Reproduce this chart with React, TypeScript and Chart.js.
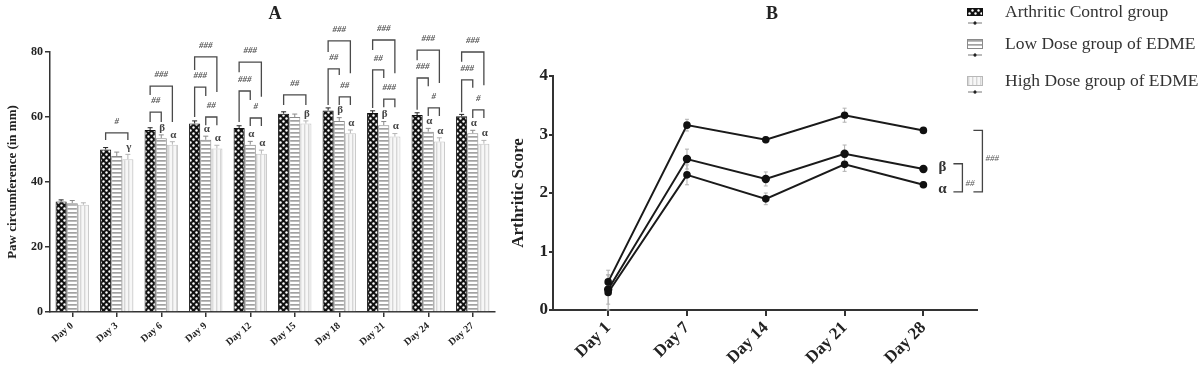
import React, { useEffect, useRef } from 'react';
import { Chart, registerables } from 'chart.js';

Chart.register(...registerables);

const FONT = '"Liberation Serif", "Times New Roman", serif';

// ---------- Panel A data ----------
const pawDays = ['Day 0', 'Day 3', 'Day 6', 'Day 9', 'Day 12', 'Day 15', 'Day 18', 'Day 21', 'Day 24', 'Day 27'];
const pawControl = [34, 50, 56, 58, 56.6, 61, 62, 61.2, 60.6, 60.2];
const pawLow = [33.5, 48, 53.5, 53, 51.5, 60, 58.8, 57.5, 55.5, 55];
const pawHigh = [33, 47, 51.5, 50.3, 48.7, 58, 55, 54, 52.5, 51.8];
const pawControlErr = [0.5, 0.6, 0.7, 0.8, 0.7, 0.6, 0.8, 0.7, 0.7, 0.6];
const pawLowErr = [0.8, 1.2, 1.0, 1.1, 1.0, 0.9, 1.0, 1.1, 1.0, 0.9];
const pawHighErr = [0.6, 1.5, 0.9, 1.0, 1.1, 0.8, 1.0, 0.9, 1.1, 1.0];
const pawTicks = [0, 20, 40, 60, 80];
// [day index, from group, to group, bracket level (mm), left leg end, right leg end, label]
const pawBrackets: [number, number, number, number, number, number, string][] = [
  [1, 0, 2, 55.1, 52.9, 52.9, '#'],
  [2, 0, 1, 61.5, 58.5, 58.5, '##'],
  [2, 0, 2, 69.5, 66.8, 58.5, '###'],
  [3, 0, 2, 78.5, 74.5, 67.7, '###'],
  [3, 0, 1, 69.2, 60, 66.5, '###'],
  [3, 1, 2, 60, 57.5, 57.5, '##'],
  [4, 0, 2, 76.9, 73.8, 66.2, '###'],
  [4, 0, 1, 68, 58.5, 65.2, '###'],
  [4, 1, 2, 59.7, 57.2, 57.2, '#'],
  [5, 0, 2, 66.8, 63.7, 63.7, '##'],
  [6, 0, 2, 83.4, 80, 73.5, '###'],
  [6, 0, 1, 74.8, 63.7, 72.9, '##'],
  [6, 1, 2, 66.2, 63.7, 63.7, '##'],
  [7, 0, 2, 83.7, 80.6, 73.5, '###'],
  [7, 0, 1, 74.5, 62.8, 72, '##'],
  [7, 1, 2, 65.5, 63, 63, '###'],
  [8, 0, 2, 80.6, 77.5, 70.5, '###'],
  [8, 0, 1, 72, 62.2, 69.5, '###'],
  [8, 1, 2, 62.8, 60.3, 60.3, '#'],
  [9, 0, 2, 80, 77, 69.8, '###'],
  [9, 0, 1, 71.4, 61.5, 69, '###'],
  [9, 1, 2, 62.2, 59.7, 59.7, '#'],
];
// [day index, group, symbol]
const pawLetters: [number, number, string][] = [
  [1, 2, 'γ'],
  [2, 1, 'β'], [2, 2, 'α'],
  [3, 1, 'α'], [3, 2, 'α'],
  [4, 1, 'α'], [4, 2, 'α'],
  [5, 2, 'β'],
  [6, 1, 'β'], [6, 2, 'α'],
  [7, 1, 'β'], [7, 2, 'α'],
  [8, 1, 'α'], [8, 2, 'α'],
  [9, 1, 'α'], [9, 2, 'α'],
];

// ---------- Panel B data ----------
const scoreDays = ['Day 1', 'Day 7', 'Day 14', 'Day 21', 'Day 28'];
const scoreControl = [0.48, 3.16, 2.91, 3.33, 3.07];
const scoreLow = [0.35, 2.58, 2.24, 2.67, 2.41];
const scoreHigh = [0.3, 2.31, 1.9, 2.49, 2.14];
const scoreControlErr = [0.2, 0.1, 0.05, 0.12, 0.04];
const scoreLowErr = [0.25, 0.17, 0.12, 0.15, 0.05];
const scoreHighErr = [0.3, 0.17, 0.1, 0.12, 0.05];
const scoreTicks = [0, 1, 2, 3, 4];
// [top value, bottom value, label, column]
const scoreBrackets: [number, number, string, number][] = [
  [3.07, 2.02, '###', 1],
  [2.5, 2.02, '##', 0],
];
// [value, symbol]
const scoreLetters: [number, string][] = [
  [2.45, 'β'],
  [2.06, 'α'],
];

const groupNames = ['Arthritic Control group', 'Low Dose group of EDME', 'High Dose group of EDME'];

function makePattern(kind: string): CanvasPattern | string {
  const c = document.createElement('canvas');
  const ctx = c.getContext('2d');
  if (!ctx) return '#888';
  if (kind === 'check') {
    c.width = 6; c.height = 6;
    ctx.fillStyle = '#111';
    ctx.fillRect(0, 0, 6, 6);
    ctx.fillStyle = '#fff';
    ctx.beginPath(); ctx.arc(1.5, 1.5, 1.2, 0, Math.PI * 2); ctx.fill();
    ctx.beginPath(); ctx.arc(4.5, 4.5, 1.2, 0, Math.PI * 2); ctx.fill();
  } else if (kind === 'hstripe') {
    c.width = 4; c.height = 4;
    ctx.fillStyle = '#fff';
    ctx.fillRect(0, 0, 4, 4);
    ctx.fillStyle = '#a2a2a2';
    ctx.fillRect(0, 0, 4, 1.7);
  } else {
    c.width = 4; c.height = 4;
    ctx.fillStyle = '#f7f7f7';
    ctx.fillRect(0, 0, 4, 4);
    ctx.fillStyle = '#d6d6d6';
    ctx.fillRect(0, 0, 1.4, 4);
  }
  return ctx.createPattern(c, 'repeat') || '#888';
}

export default function App() {
  const refA = useRef<HTMLCanvasElement>(null);
  const refB = useRef<HTMLCanvasElement>(null);

  useEffect(() => {
    if (!refA.current || !refB.current) return;
    const pCheck = makePattern('check');
    const pStripe = makePattern('hstripe');
    const pLight = makePattern('light');

    const pawSeries = [pawControl, pawLow, pawHigh];
    const pawErrs = [pawControlErr, pawLowErr, pawHighErr];

    const annotA = {
      id: 'annotA',
      afterDatasetsDraw(chart: any) {
        const { ctx } = chart;
        const ys = chart.scales.y;
        ctx.save();
        // error bars
        pawErrs.forEach((errs, di) => {
          const meta = chart.getDatasetMeta(di);
          meta.data.forEach((bar: any, j: number) => {
            const top = ys.getPixelForValue(pawSeries[di][j] + errs[j]);
            ctx.strokeStyle = di === 0 ? '#222' : di === 1 ? '#8a8a8a' : '#b5b5b5';
            ctx.lineWidth = 1;
            ctx.beginPath();
            ctx.moveTo(bar.x, bar.y);
            ctx.lineTo(bar.x, top);
            ctx.moveTo(bar.x - 2.5, top);
            ctx.lineTo(bar.x + 2.5, top);
            ctx.stroke();
          });
        });
        // brackets
        ctx.strokeStyle = '#4a4a4a';
        ctx.lineWidth = 1.3;
        ctx.fillStyle = '#555';
        ctx.font = `italic bold 9px ${FONT}`;
        ctx.textAlign = 'center';
        ctx.textBaseline = 'middle';
        pawBrackets.forEach(([d, a, b, top, la, lb, label]) => {
          const xa = chart.getDatasetMeta(a).data[d].x;
          const xb = chart.getDatasetMeta(b).data[d].x;
          const yt = ys.getPixelForValue(top);
          ctx.beginPath();
          ctx.moveTo(xa, ys.getPixelForValue(la));
          ctx.lineTo(xa, yt);
          ctx.lineTo(xb, yt);
          ctx.lineTo(xb, ys.getPixelForValue(lb));
          ctx.stroke();
          ctx.fillText(label, (xa + xb) / 2, yt - 11);
        });
        // letters
        ctx.fillStyle = '#444';
        ctx.font = `bold 11px ${FONT}`;
        pawLetters.forEach(([d, g, sym]) => {
          const bar = chart.getDatasetMeta(g).data[d];
          const yTop = ys.getPixelForValue(pawSeries[g][d] + pawErrs[g][d]);
          ctx.fillText(sym, bar.x + 1, yTop - 7);
        });
        ctx.restore();
      },
      afterDraw(chart: any) {
        const { ctx } = chart;
        ctx.save();
        ctx.fillStyle = '#222';
        ctx.font = `bold 18px ${FONT}`;
        ctx.textAlign = 'center';
        ctx.textBaseline = 'middle';
        ctx.fillText('A', 275, 14);
        ctx.restore();
      },
    };

    const chartA = new Chart(refA.current, {
      type: 'bar',
      data: {
        labels: pawDays,
        datasets: [
          { label: groupNames[0], data: pawControl, backgroundColor: pCheck as any, borderColor: '#111', borderWidth: 1 },
          { label: groupNames[1], data: pawLow, backgroundColor: pStripe as any, borderColor: '#8a8a8a', borderWidth: 1 },
          { label: groupNames[2], data: pawHigh, backgroundColor: pLight as any, borderColor: '#c4c4c4', borderWidth: 1 },
        ],
      },
      options: {
        responsive: false,
        animation: false,
        layout: { padding: { top: 52, right: 5, bottom: 0, left: 0 } },
        datasets: { bar: { categoryPercentage: 0.75, barPercentage: 1 } } as any,
        plugins: { legend: { display: false }, tooltip: { enabled: false } },
        scales: {
          x: {
            offset: true,
            grid: { display: true, drawOnChartArea: false, offset: false, tickLength: 5, color: '#333', lineWidth: 1.5 },
            border: { display: true, color: '#333', width: 1.5 },
            ticks: { color: '#222', font: { family: FONT, size: 10, weight: 'bold' }, minRotation: 40, maxRotation: 40, autoSkip: false, padding: 3 },
            afterFit: (s: any) => { s.height = 61; },
          },
          y: {
            min: 0,
            max: 80,
            afterBuildTicks: (s: any) => { s.ticks = pawTicks.map((v) => ({ value: v })); },
            grid: { display: true, drawOnChartArea: false, tickLength: 5, color: '#333', lineWidth: 1.5 },
            border: { display: true, color: '#333', width: 1.5 },
            ticks: { color: '#222', font: { family: FONT, size: 12, weight: 'bold' }, padding: 2 },
            title: { display: true, text: 'Paw circumference (in mm)', color: '#222', font: { family: FONT, size: 13, weight: 'bold' }, padding: { top: 5, bottom: 0 } },
            afterFit: (s: any) => { s.width = 50; },
          },
        },
      } as any,
      plugins: [annotA],
    });

    const scoreSeries = [scoreControl, scoreLow, scoreHigh];
    const scoreErrs = [scoreControlErr, scoreLowErr, scoreHighErr];

    const annotB = {
      id: 'annotB',
      beforeDatasetsDraw(chart: any) {
        const { ctx } = chart;
        const ys = chart.scales.y;
        ctx.save();
        ctx.strokeStyle = '#b0b0b0';
        ctx.lineWidth = 1;
        scoreErrs.forEach((errs, di) => {
          const meta = chart.getDatasetMeta(di);
          meta.data.forEach((pt: any, j: number) => {
            const v = scoreSeries[di][j];
            const y1 = ys.getPixelForValue(v + errs[j]);
            const y2 = ys.getPixelForValue(v - errs[j]);
            ctx.beginPath();
            ctx.moveTo(pt.x, y1); ctx.lineTo(pt.x, y2);
            ctx.moveTo(pt.x - 2, y1); ctx.lineTo(pt.x + 2, y1);
            ctx.moveTo(pt.x - 2, y2); ctx.lineTo(pt.x + 2, y2);
            ctx.stroke();
          });
        });
        ctx.restore();
      },
      afterDraw(chart: any) {
        const { ctx } = chart;
        const ys = chart.scales.y;
        const lastX = chart.getDatasetMeta(0).data[scoreDays.length - 1].x;
        ctx.save();
        // title
        ctx.fillStyle = '#222';
        ctx.font = `bold 18px ${FONT}`;
        ctx.textAlign = 'center';
        ctx.textBaseline = 'middle';
        ctx.fillText('B', 272, 14);
        // letters
        ctx.font = `bold 15px ${FONT}`;
        ctx.fillStyle = '#333';
        scoreLetters.forEach(([v, sym]) => {
          ctx.fillText(sym, lastX + 19, ys.getPixelForValue(v));
        });
        // brackets
        ctx.strokeStyle = '#444';
        ctx.lineWidth = 1.3;
        scoreBrackets.forEach(([top, bot, label, col]) => {
          const xr = lastX + 39 + col * 20;
          const xl = xr - 9;
          const yt = ys.getPixelForValue(top);
          const yb = ys.getPixelForValue(bot);
          ctx.beginPath();
          ctx.moveTo(xl, yt); ctx.lineTo(xr, yt); ctx.lineTo(xr, yb); ctx.lineTo(xl, yb);
          ctx.stroke();
          ctx.fillStyle = '#555';
          ctx.font = `italic 9px ${FONT}`;
          ctx.textAlign = 'left';
          ctx.fillText(label, xr + 3, (yt + yb) / 2 + (col === 0 ? 6 : -2));
        });
        // legend
        const pats = [pCheck, pStripe, pLight];
        const borders = ['#111', '#8a8a8a', '#b8b8b8'];
        const rowsY = [12, 44, 81];
        const sx = 467;
        rowsY.forEach((ry, i) => {
          const h = i === 0 ? 8 : 10;
          ctx.fillStyle = pats[i] as any;
          ctx.fillRect(sx, ry - h / 2, 16, h);
          ctx.strokeStyle = borders[i];
          ctx.lineWidth = 1;
          ctx.strokeRect(sx + 0.5, ry - h / 2 + 0.5, 15, h - 1);
          // error-bar icon
          const iy = ry + 11;
          ctx.strokeStyle = '#777';
          ctx.beginPath();
          ctx.moveTo(sx + 1, iy); ctx.lineTo(sx + 15, iy);
          ctx.moveTo(sx + 8, iy - 2); ctx.lineTo(sx + 8, iy + 2);
          ctx.stroke();
          ctx.fillStyle = '#222';
          ctx.beginPath(); ctx.arc(sx + 8, iy, 1.6, 0, Math.PI * 2); ctx.fill();
          // text
          ctx.fillStyle = '#333';
          ctx.font = `17.5px ${FONT}`;
          ctx.textAlign = 'left';
          ctx.textBaseline = 'middle';
          ctx.fillText(groupNames[i], 505, ry);
        });
        ctx.restore();
      },
    };

    const chartB = new Chart(refB.current, {
      type: 'line',
      data: {
        datasets: scoreSeries.map((s, i) => ({
          label: groupNames[i],
          data: s.map((v, j) => ({ x: j, y: v })),
          borderColor: '#1a1a1a',
          borderWidth: 2,
          pointRadius: i === 1 ? 3.2 : 2.8,
          pointBackgroundColor: '#111',
          pointBorderColor: '#111',
          pointStyle: 'circle',
          tension: 0,
        })),
      },
      options: {
        responsive: false,
        animation: false,
        layout: { padding: { top: 76, right: 223, bottom: 0, left: 0 } },
        plugins: { legend: { display: false }, tooltip: { enabled: false } },
        scales: {
          x: {
            type: 'linear',
            min: -0.7,
            max: 4.68,
            afterBuildTicks: (s: any) => { s.ticks = scoreDays.map((_, i) => ({ value: i })); },
            grid: { display: true, drawOnChartArea: false, tickLength: 6, color: '#333', lineWidth: 2 },
            border: { display: true, color: '#333', width: 2 },
            ticks: { color: '#222', font: { family: FONT, size: 17, weight: 'bold' }, minRotation: 45, maxRotation: 45, autoSkip: false, padding: 2, callback: (v: any) => scoreDays[v] ?? '' },
            afterFit: (s: any) => { s.height = 63; },
          },
          y: {
            min: 0,
            max: 4,
            afterBuildTicks: (s: any) => { s.ticks = scoreTicks.map((v) => ({ value: v })); },
            grid: { display: true, drawOnChartArea: false, tickLength: 4, color: '#333', lineWidth: 2 },
            border: { display: true, color: '#333', width: 2 },
            ticks: { color: '#222', font: { family: FONT, size: 17, weight: 'bold' }, padding: 1 },
            title: { display: true, text: 'Arthritic Score', color: '#222', font: { family: FONT, size: 17, weight: 'bold' }, padding: { top: 8, bottom: 0 } },
            afterFit: (s: any) => { s.width = 53; },
          },
        },
      } as any,
      plugins: [annotB],
    });

    return () => {
      chartA.destroy();
      chartB.destroy();
    };
  }, []);

  return (
    <div style={{ position: 'absolute', left: 0, top: 0, width: 1200, height: 373, background: '#fff', overflow: 'hidden' }}>
      <canvas ref={refA} width={500} height={373} style={{ position: 'absolute', left: 0, top: 0 }} />
      <canvas ref={refB} width={700} height={373} style={{ position: 'absolute', left: 500, top: 0 }} />
    </div>
  );
}
